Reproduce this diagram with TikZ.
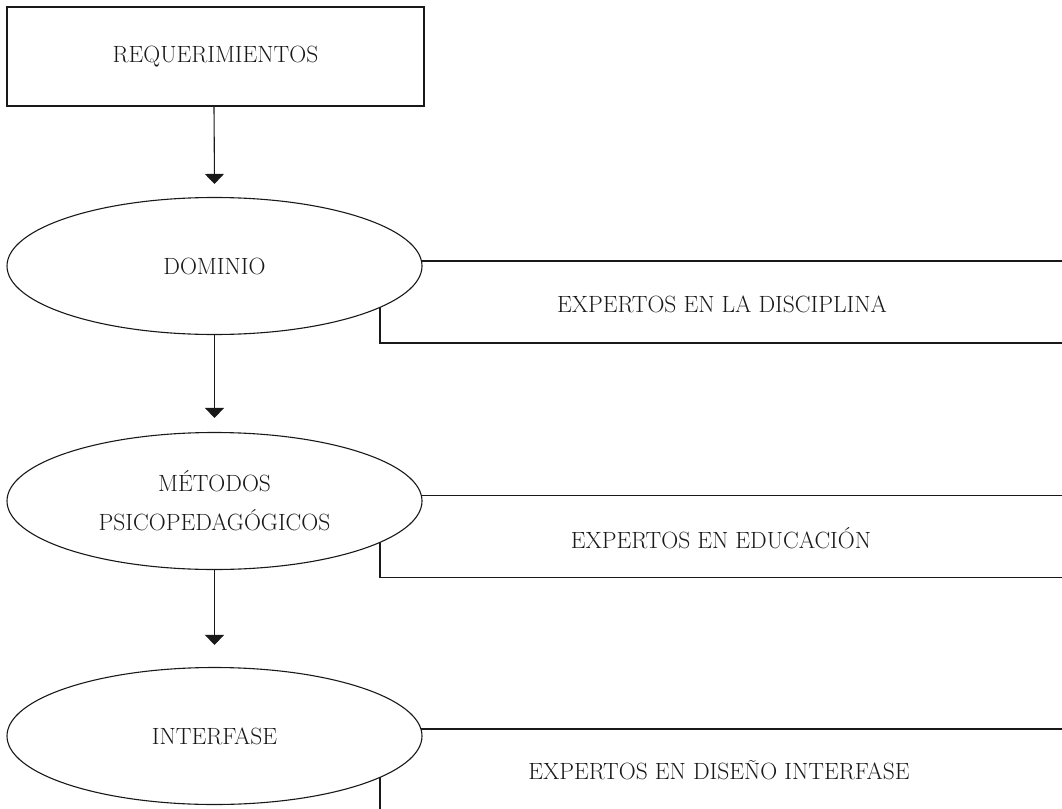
\documentclass[tikz,border=0pt]{standalone}
\usetikzlibrary{shapes.geometric,arrows.meta}
\begin{document}
\begin{tikzpicture}[x=1pt,y=-1pt,
  every node/.style={font=\fontsize{23.5}{39}\selectfont,text=black!90},
  ln/.style={line width=1.1pt,draw=black!90},
  reqbox/.style={ln,rectangle,minimum width=417pt,minimum height=99pt,inner sep=0pt},
  elnode/.style={ln,ellipse,fill=white,minimum width=415pt,minimum height=137pt,inner sep=0pt,align=center},
  expbox/.style={ln,rectangle,fill=white,minimum width=684pt,minimum height=82pt,inner sep=0pt},
  arr/.style={ln,-{Triangle[width=19pt,length=10pt]}}
]
\useasboundingbox (0,0) rectangle (1062,808);
% expert boxes (behind ellipses)
\node[expbox] (b1) at (722,302) {};
\node at (722,304) {EXPERTOS EN LA DISCIPLINA};
\node[expbox] (b2) at (722,536.5) {};
\node at (721,538) {EXPERTOS EN EDUCACIÓN};
\node[expbox] (b3) at (722,770) {};
\node at (719,770) {EXPERTOS EN DISEÑO INTERFASE};
% main chain
\node[reqbox] (req) at (215.5,56.5) {REQUERIMIENTOS};
\node[elnode] (dom) at (214.5,266) {DOMINIO};
\node[elnode] (met) at (214.5,501) {MÉTODOS\\PSICOPEDAGÓGICOS};
\node[elnode] (int) at (214.5,736) {INTERFASE};
\draw[arr] (req.south -| 214,0) -- ([yshift=13pt]dom.north);
\draw[arr] (dom.south) -- ([yshift=14pt]met.north);
\draw[arr] (met.south) -- ([yshift=22pt]int.north);
\end{tikzpicture}
\end{document}
